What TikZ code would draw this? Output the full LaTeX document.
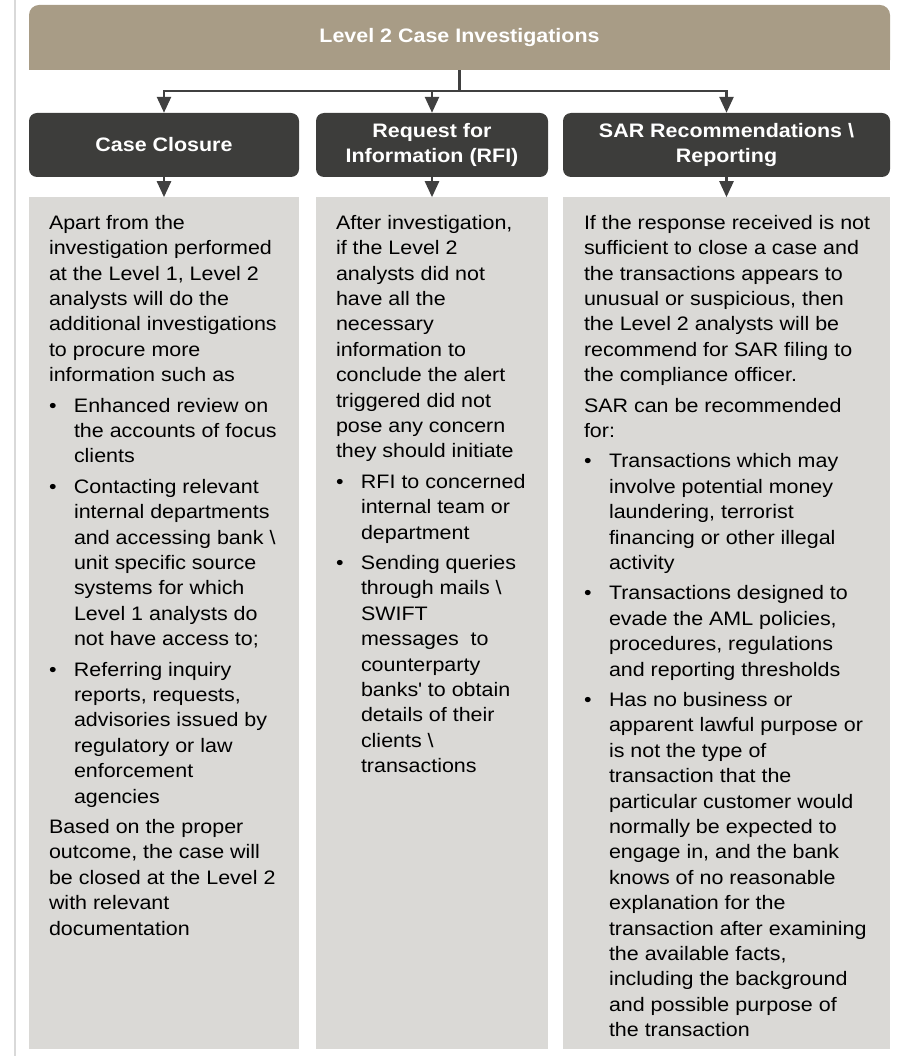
\documentclass[tikz,border=0pt]{standalone}
\usepackage{fontspec}
\setmainfont{Liberation Sans}[FakeStretch=1.1]
\usepackage{tikz}
\usetikzlibrary{positioning,arrows.meta,backgrounds}
\definecolor{tan}{HTML}{A89C86}
\definecolor{slate}{HTML}{3D3D3B}
\definecolor{paper}{HTML}{DAD9D6}
\definecolor{wire}{HTML}{404040}
\definecolor{margin}{HTML}{D9D9D9}
\newcommand{\bul}{\makebox[25pt][l]{\textbullet}}
\newcommand{\ind}{\hspace*{25pt}}

\begin{document}
\begin{tikzpicture}[x=1pt, y=-1pt,
  hdr/.style={fill=tan, rounded corners=10pt, minimum width=861pt, minimum height=65pt, inner sep=0pt, text=white, font=\bfseries\fontsize{19.5}{25}\selectfont},
  topic/.style={fill=slate, rounded corners=8pt, minimum height=64pt, inner sep=0pt, text=white, align=center, font=\bfseries\fontsize{19.5}{25}\selectfont},
  panel/.style={fill=paper, minimum height=852pt, inner sep=0pt},
  body/.style={anchor=north west, inner sep=0pt, align=left, font=\fontsize{19.5}{25.4}\selectfont},
  arr/.style={draw=wire, line width=2.5pt, -{Triangle[length=16pt,width=14pt]}}]
\useasboundingbox (0,0) rectangle (902,1056);
\draw[margin, line width=2pt] (15,0) -- (15,1056);
% header
\node[hdr] (hdr) at (459.5,37.5) {Level 2 Case Investigations};
\begin{scope}[on background layer]
\fill[tan] (hdr.south west) rectangle (hdr.east);
\end{scope}
% topics
\node[topic, minimum width=270pt] (cc) at (164,145) {Case Closure};
\node[topic, minimum width=232pt] (rfi) at (432,145) {Request for\\Information (RFI)};
\node[topic, minimum width=327pt] (sar) at (726.5,145) {SAR Recommendations \textbackslash\\Reporting};
% panels
\node[panel, minimum width=270pt, below=20pt of cc] (cc-body) {};
\node[panel, minimum width=232pt, below=20pt of rfi] (rfi-body) {};
\node[panel, minimum width=327pt, below=20pt of sar] (sar-body) {};
% connectors
\coordinate (split) at (459.5,91);
\draw[wire, line width=2.5pt] (hdr.south) -- (split);
\foreach \n in {cc,rfi,sar} {
  \draw[arr] (split) -| (\n.north);
  \draw[arr] (\n.south) -- (\n-body.north);
}
% texts
\node[body] (cc-text) at ([shift={(20pt,-17.8pt)}]cc-body.north west) {%
Apart from the\\
investigation performed\\
at the Level 1, Level 2\\
analysts will do the\\
additional investigations\\
to procure more\\
information such as\\[5pt]
\bul Enhanced review on\\
\ind the accounts of focus\\
\ind clients\\[5pt]
\bul Contacting relevant\\
\ind internal departments\\
\ind and accessing bank \textbackslash\\
\ind unit specific source\\
\ind systems for which\\
\ind Level 1 analysts do\\
\ind not have access to;\\[5pt]
\bul Referring inquiry\\
\ind reports, requests,\\
\ind advisories issued by\\
\ind regulatory or law\\
\ind enforcement\\
\ind agencies\\[5pt]
Based on the proper\\
outcome, the case will\\
be closed at the Level 2\\
with relevant\\
documentation};
\node[body] (rfi-text) at ([shift={(20pt,-17.8pt)}]rfi-body.north west) {%
After investigation,\\
if the Level 2\\
analysts did not\\
have all the\\
necessary\\
information to\\
conclude the alert\\
triggered did not\\
pose any concern\\
they should initiate\\[5pt]
\bul RFI to concerned\\
\ind internal team or\\
\ind department\\[5pt]
\bul Sending queries\\
\ind through mails \textbackslash\\
\ind SWIFT\\
\ind messages~ to\\
\ind counterparty\\
\ind banks\textquotesingle{} to obtain\\
\ind details of their\\
\ind clients \textbackslash\\
\ind transactions};
\node[body] (sar-text) at ([shift={(21pt,-17.8pt)}]sar-body.north west) {%
If the response received is not\\
sufficient to close a case and\\
the transactions appears to\\
unusual or suspicious, then\\
the Level 2 analysts will be\\
recommend for SAR filing to\\
the compliance officer.\\[5pt]
SAR can be recommended\\
for:\\[5pt]
\bul Transactions which may\\
\ind involve potential money\\
\ind laundering, terrorist\\
\ind financing or other illegal\\
\ind activity\\[5pt]
\bul Transactions designed to\\
\ind evade the AML policies,\\
\ind procedures, regulations\\
\ind and reporting thresholds\\[5pt]
\bul Has no business or\\
\ind apparent lawful purpose or\\
\ind is not the type of\\
\ind transaction that the\\
\ind particular customer would\\
\ind normally be expected to\\
\ind engage in, and the bank\\
\ind knows of no reasonable\\
\ind explanation for the\\
\ind transaction after examining\\
\ind the available facts,\\
\ind including the background\\
\ind and possible purpose of\\
\ind the transaction};
\end{tikzpicture}
\end{document}
